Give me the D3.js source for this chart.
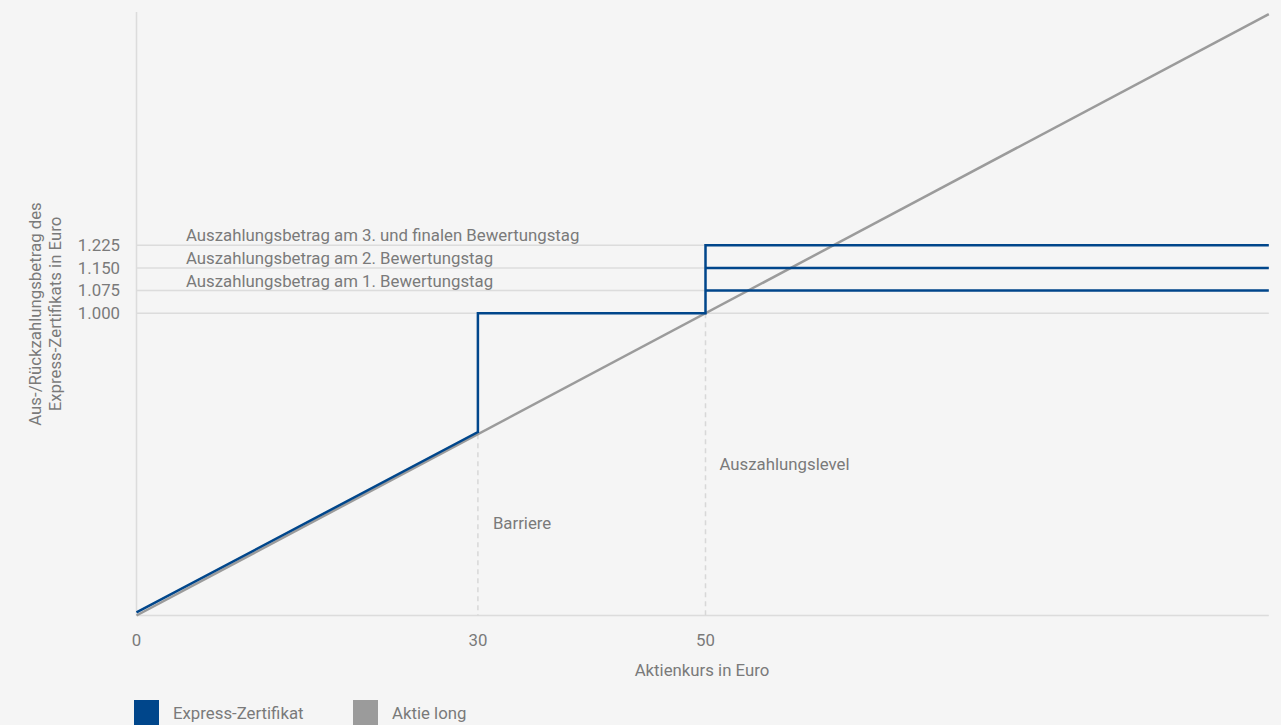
<!DOCTYPE html>
<html>
<head>
<meta charset="utf-8">
<script src="https://cdn.jsdelivr.net/npm/d3@7"></script>
<style>
  html, body { margin: 0; padding: 0; background: #f5f5f5; }
  svg { display: block; }
  text { font-family: Roboto, "Noto Sans", sans-serif; fill: #7a7a7a; font-weight: 400; }
</style>
</head>
<body>
<svg id="chart" width="1281" height="725"></svg>
<script>
// ---- data ----
const xTicks = [0, 30, 50];
const yTicks = [1.000, 1.075, 1.150, 1.225];
const yTickLabels = ["1.000", "1.075", "1.150", "1.225"];
const aktieLong = [[0, 0], [99.5, 1.99]];
const expressMain = [[0, 0.01], [30, 0.607], [30, 1.0], [50, 1.0], [50, 1.225], [99.5, 1.225]];
const expressLevels = [1.150, 1.075];
const levelStartX = 50;
const lineEndX = 99.5;
const payoutLabels = [
  { v: 1.225, t: "Auszahlungsbetrag am 3. und finalen Bewertungstag" },
  { v: 1.150, t: "Auszahlungsbetrag am 2. Bewertungstag" },
  { v: 1.075, t: "Auszahlungsbetrag am 1. Bewertungstag" }
];
const markers = [
  { x: 30, y: 0.6, label: "Barriere" },
  { x: 50, y: 1.0, label: "Auszahlungslevel" }
];
const legendItems = [
  { name: "Express-Zertifikat", color: "#00468b" },
  { name: "Aktie long", color: "#9b9b9b" }
];

// ---- layout ----
const FS = 16.8;
const svg = d3.select("#chart");
const x = d3.scaleLinear().domain([0, 100]).range([136.5, 1274.5]);
const y = d3.scaleLinear().domain([0, 2]).range([615.5, 11]);

const grid = "#dcdcdc";

// horizontal gridlines
svg.append("g").selectAll("line").data(yTicks).join("line")
  .attr("x1", x(0)).attr("x2", x(lineEndX))
  .attr("y1", d => y(d)).attr("y2", d => y(d))
  .attr("stroke", grid).attr("stroke-width", 1.5);

// axes lines
svg.append("line").attr("x1", x(0)).attr("x2", x(0))
  .attr("y1", 12).attr("y2", y(0))
  .attr("stroke", grid).attr("stroke-width", 1.5);
svg.append("line").attr("x1", x(0)).attr("x2", x(lineEndX))
  .attr("y1", y(0)).attr("y2", y(0))
  .attr("stroke", grid).attr("stroke-width", 1.5);

// dashed markers
svg.append("g").selectAll("line").data(markers).join("line")
  .attr("x1", d => x(d.x)).attr("x2", d => x(d.x))
  .attr("y1", d => y(d.y)).attr("y2", y(0))
  .attr("stroke", "#d8d8d8").attr("stroke-width", 1.5)
  .attr("stroke-dasharray", "5,4");

// y tick labels
svg.append("g").selectAll("text").data(yTicks).join("text")
  .attr("x", 120).attr("y", d => y(d)).attr("dy", "0.35em")
  .attr("text-anchor", "end").attr("font-size", FS)
  .text((d, i) => yTickLabels[i]);

// x tick labels
svg.append("g").selectAll("text").data(xTicks).join("text")
  .attr("x", d => x(d)).attr("y", 646)
  .attr("text-anchor", "middle").attr("font-size", FS)
  .text(d => d);

// axis titles
svg.append("text").attr("x", 702).attr("y", 676)
  .attr("text-anchor", "middle").attr("font-size", FS)
  .text("Aktienkurs in Euro");
const yt = svg.append("text").attr("transform", "translate(41,314) rotate(-90)")
  .attr("text-anchor", "middle").attr("font-size", FS);
yt.append("tspan").attr("x", 0).attr("y", 0).text("Aus-/Rückzahlungsbetrag des");
yt.append("tspan").attr("x", 0).attr("y", 20).text("Express-Zertifikats in Euro");

// lines
const line = d3.line().x(d => x(d[0])).y(d => y(d[1]));
svg.append("path").datum(aktieLong).attr("d", line)
  .attr("fill", "none").attr("stroke", legendItems[1].color).attr("stroke-width", 2.5);
svg.append("path").datum(expressMain).attr("d", line)
  .attr("fill", "none").attr("stroke", legendItems[0].color).attr("stroke-width", 2.5);
svg.append("g").selectAll("line").data(expressLevels).join("line")
  .attr("x1", x(levelStartX)).attr("x2", x(lineEndX))
  .attr("y1", d => y(d)).attr("y2", d => y(d))
  .attr("stroke", legendItems[0].color).attr("stroke-width", 2.5);

// payout labels
svg.append("g").selectAll("text").data(payoutLabels).join("text")
  .attr("x", 186).attr("y", d => y(d.v) - 4)
  .attr("font-size", FS)
  .text(d => d.t);

// marker labels
svg.append("text").attr("x", x(30) + 15).attr("y", 529).attr("font-size", FS).text(markers[0].label);
svg.append("text").attr("x", x(50) + 14).attr("y", 470).attr("font-size", FS).text(markers[1].label);

// legend
const lg = svg.append("g").selectAll("g").data(legendItems).join("g")
  .attr("transform", (d, i) => `translate(${[134, 353][i]},700)`);
lg.append("rect").attr("width", 25).attr("height", 25).attr("fill", d => d.color);
lg.append("text").attr("x", 39).attr("y", 19).attr("font-size", FS).text(d => d.name);
</script>
</body>
</html>
